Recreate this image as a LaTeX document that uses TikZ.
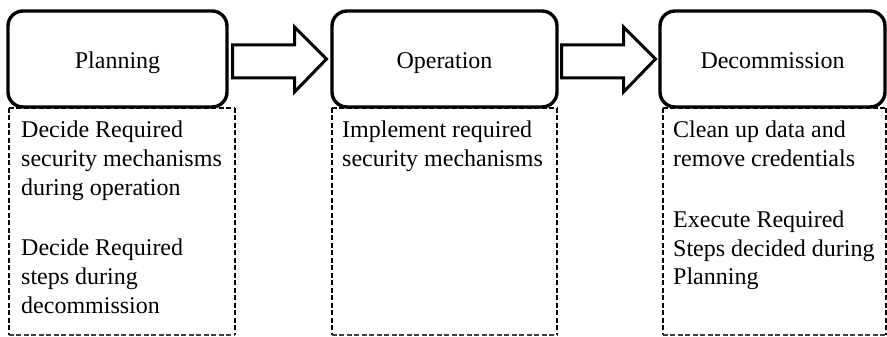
\documentclass[tikz,border=0pt]{standalone}
\usepackage{fontspec}
\setmainfont{Liberation Serif}
\usetikzlibrary{calc}

\tikzset{
  phase/.style={draw=black, line width=3.4pt, rounded corners=15pt, fill=white,
    inner sep=0pt, text height=20pt, text depth=0pt,
    font=\fontsize{24}{28}\selectfont},
  notebox/.style={inner sep=0pt, draw=none},
  sidedash/.style={line width=2.5pt, dash pattern=on 5pt off 2.5pt, black},
  basedash/.style={line width=1.6pt, dash pattern=on 5pt off 2.5pt, black!75},
  line/.style={anchor=base west, inner sep=0pt, font=\fontsize{24}{28}\selectfont},
  blockarrow/.pic={
    \draw[line width=3pt, line join=miter, fill=white]
      (-47,-14) -- (15,-14) -- (15,-32) -- (47,0) -- (15,33)
      -- (15,19) -- (-47,19) -- cycle;
  }
}

\begin{document}
\begin{tikzpicture}[x=1pt, y=-1pt]
\useasboundingbox (0,0) rectangle (887,337);

% dashed note frames under each phase
\node[notebox, minimum width=226pt, minimum height=227pt] (planD) at (122,221.5) {};
\node[notebox, minimum width=225pt, minimum height=227pt] (operD) at (444.5,221.5) {};
\node[notebox, minimum width=223pt, minimum height=227pt] (decoD) at (774.5,221.5) {};

\foreach \b in {planD, operD, decoD} {
  \draw[sidedash] (\b.north west) -- (\b.south west);
  \draw[sidedash] (\b.north east) -- (\b.south east);
  \draw[sidedash] (\b.north west) -- (\b.north east);
  \draw[basedash] (\b.south west) -- (\b.south east);
}

% phase boxes
\node[phase, minimum width=219pt, minimum height=96pt] (plan) at (117.5,59) {Planning};
\node[phase, minimum width=225pt, minimum height=96pt] (oper) at (444.5,59) {Operation};
\node[phase, minimum width=225pt, minimum height=96pt] (deco) at (772.5,59) {Decommission};

% block arrows between phases
\pic at ($(plan.east)!0.5!(oper.west)$) {blockarrow};
\pic at ($(oper.east)!0.5!(deco.west)$) {blockarrow};

% notes: planning
\node[line] (p1) at (21,137) {Decide Required};
\node[line] (p2) at (21,166) {security mechanisms};
\node[line] (p3) at (21,195) {during operation};
\node[line] (p4) at (21,255) {Decide Required};
\node[line] (p5) at (21,284) {steps during};
\node[line] (p6) at (21,313) {decommission};

% notes: operation
\node[line] (o1) at (342,137) {Implement required};
\node[line] (o2) at (342,166) {security mechanisms};

% notes: decommission
\node[line] (d1) at (673,137) {Clean up data and};
\node[line] (d2) at (673,166) {remove credentials};
\node[line] (d3) at (673,227) {Execute Required};
\node[line] (d4) at (673,256) {Steps decided during};
\node[line] (d5) at (673,284) {Planning};
\end{tikzpicture}
\end{document}
